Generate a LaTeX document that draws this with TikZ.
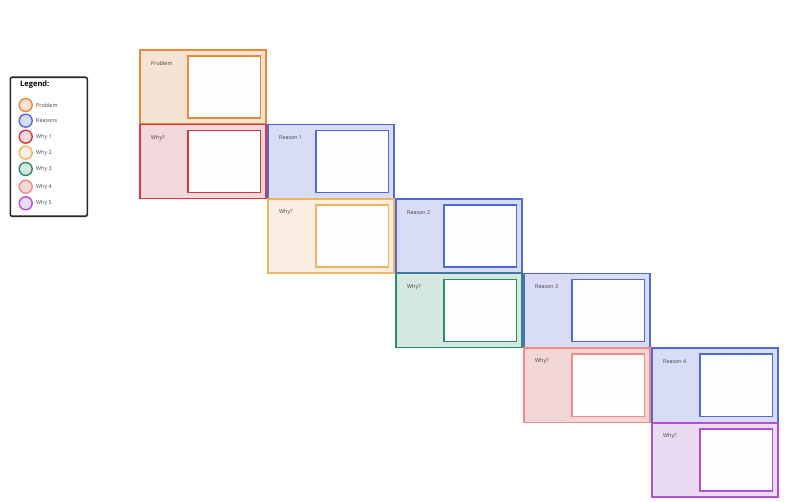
\documentclass[tikz,border=0pt]{standalone}
\usepackage{fontspec}
\setmainfont{Open Sans}
\definecolor{cProbL}{HTML}{E9893A}\definecolor{cProbF}{HTML}{F6E3D3}
\definecolor{cRsnL}{HTML}{5069D8}\definecolor{cRsnF}{HTML}{D8DDF5}
\definecolor{cW1L}{HTML}{D9363E}\definecolor{cW1F}{HTML}{F1D8DD}
\definecolor{cW2L}{HTML}{F2B35E}\definecolor{cW2F}{HTML}{FAEEE2}
\definecolor{cW3L}{HTML}{2E8B65}\definecolor{cW3F}{HTML}{D4E7E0}
\definecolor{cW4L}{HTML}{F08A86}\definecolor{cW4F}{HTML}{F3D7D7}
\definecolor{cW5L}{HTML}{B450D6}\definecolor{cW5F}{HTML}{EBDBF2}
\definecolor{inner}{HTML}{FCFEFD}
\tikzset{
  outerbox/.style 2 args={draw=#1, fill=#2, line width=1.5pt, minimum width=126pt, minimum height=74pt, inner sep=0pt, anchor=north west},
  innerbox/.style={draw=#1, fill=inner, line width=1.5pt, minimum width=72.5pt, minimum height=62pt, inner sep=0pt, anchor=north west},
  lbl/.style={font=\fontsize{5.4pt}{6pt}\selectfont, text=black!75, anchor=west, inner sep=0pt},
  legdot/.style 2 args={draw=#1, fill=#2, line width=1.4pt, circle, minimum size=13pt, inner sep=0pt},
}
\begin{document}
\begin{tikzpicture}[x=1pt,y=-1pt]
\useasboundingbox (0,0) rectangle (787,502);
% legend
\node[draw=black!85, line width=1.6pt, rounded corners=2pt, minimum width=77pt, minimum height=139pt, anchor=north west, inner sep=0pt] (legend) at (9.5,76.5) {};
\node[font=\fontsize{7.5pt}{9pt}\selectfont\bfseries, anchor=west, inner sep=0pt] (legtitle) at (20,85) {Legend:};
\foreach \n/\y/\l/\f/\t in {lp/105/cProbL/cProbF/Problem, lr/120.7/cRsnL/cRsnF/Reasons, l1/136.7/cW1L/cW1F/Why 1, l2/152.7/cW2L/cW2F/Why 2, l3/169/cW3L/cW3F/Why 3, l4/186.7/cW4L/cW4F/Why 4, l5/203.3/cW5L/cW5F/Why 5}{
  \node[legdot={\l}{\f}] (\n) at (25.7,\y) {};
  \node[lbl] (\n t) at (36,\y) {\t};
}
% boxes
\foreach \n/\x/\y/\l/\f/\t in {
  prob/139/49.5/cProbL/cProbF/Problem,
  w1/139/124/cW1L/cW1F/Why?,
  r1/267/124/cRsnL/cRsnF/Reason 1,
  w2/267/198.5/cW2L/cW2F/Why?,
  r2/395/198.5/cRsnL/cRsnF/Reason 2,
  w3/395/273/cW3L/cW3F/Why?,
  r3/523/273/cRsnL/cRsnF/Reason 3,
  w4/523/347.5/cW4L/cW4F/Why?,
  r4/651/347.5/cRsnL/cRsnF/Reason 4,
  w5/651/422/cW5L/cW5F/Why?}{
  \node[outerbox={\l}{\f}] (\n) at (\x,\y) {};
  \node[innerbox=\l] (\n i) at ([xshift=48pt,yshift=-6pt]\n.north west) {};
  \node[lbl] (\n t) at ([xshift=12pt,yshift=-14pt]\n.north west) {\t};
}
\end{tikzpicture}
\end{document}
